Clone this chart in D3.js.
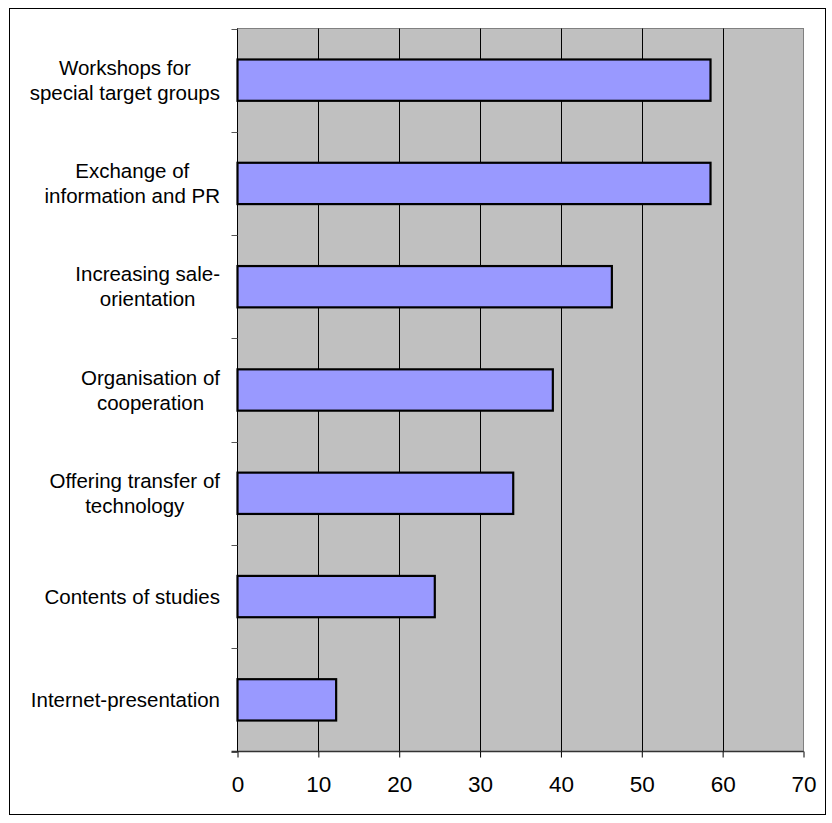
<!DOCTYPE html>
<html>
<head>
<meta charset="utf-8">
<script src="https://cdn.jsdelivr.net/npm/d3@7"></script>
<style>
  html, body { margin: 0; padding: 0; background: #fff; }
  svg { display: block; }
  text { font-family: "Liberation Sans", Arial, sans-serif; fill: #000; }
</style>
</head>
<body>
<svg id="chart" width="832" height="823"></svg>
<script>
// Activities, top to bottom, with the share (%) of each
const categories = [
  ["Workshops for", "special target groups"],
  ["Exchange of", "information and PR"],
  ["Increasing sale-", "orientation"],
  ["Organisation of", "cooperation"],
  ["Offering transfer of", "technology"],
  ["Contents of studies"],
  ["Internet-presentation"]
];
const values = [58.5, 58.5, 46.3, 39.0, 34.1, 24.4, 12.2];
const xTicks = [0, 10, 20, 30, 40, 50, 60, 70];

const svg = d3.select("#chart");

// outer frame
svg.append("rect")
  .attr("x", 9.5).attr("y", 8.5)
  .attr("width", 816).attr("height", 806)
  .attr("fill", "#fff").attr("stroke", "#000").attr("stroke-width", 1);

const plot = { left: 237.5, right: 803.5, top: 28.5, bottom: 751.5 };

const x = d3.scaleLinear().domain([0, 70]).range([plot.left, plot.right]);
const y = d3.scaleBand()
  .domain(d3.range(categories.length))
  .range([plot.top, plot.bottom])
  .paddingInner(0.6).paddingOuter(0.3);
const band = d3.scaleBand()
  .domain(d3.range(categories.length))
  .range([plot.top, plot.bottom]);

// plot background
svg.append("rect")
  .attr("x", plot.left).attr("y", plot.top)
  .attr("width", plot.right - plot.left).attr("height", plot.bottom - plot.top)
  .attr("fill", "#C0C0C0").attr("stroke", "#808080").attr("stroke-width", 1);

// vertical gridlines
svg.append("g")
  .selectAll("line")
  .data(xTicks.filter(d => d > 0 && d < 70))
  .join("line")
  .attr("x1", d => Math.round(x(d)) + 0.5).attr("x2", d => Math.round(x(d)) + 0.5)
  .attr("y1", plot.top).attr("y2", plot.bottom)
  .attr("stroke", "#000").attr("stroke-width", 1);

// bars
svg.append("g")
  .selectAll("rect")
  .data(values)
  .join("rect")
  .attr("x", x(0))
  .attr("y", (d, i) => y(i))
  .attr("width", d => x(d) - x(0))
  .attr("height", y.bandwidth())
  .attr("fill", "#9999FF")
  .attr("stroke", "#000")
  .attr("stroke-width", 2.2);

// category axis line and tick marks at band boundaries
const bounds = d3.range(categories.length + 1).map(i =>
  i < categories.length ? band(i) : plot.bottom);
svg.append("line")
  .attr("x1", plot.left).attr("x2", plot.left)
  .attr("y1", plot.top).attr("y2", plot.bottom)
  .attr("stroke", "#000").attr("stroke-width", 1);
svg.append("g")
  .selectAll("line")
  .data(bounds)
  .join("line")
  .attr("x1", plot.left - 6).attr("x2", plot.left)
  .attr("y1", d => Math.round(d) + 0.5).attr("y2", d => Math.round(d) + 0.5)
  .attr("stroke", "#555").attr("stroke-width", 1);

// value axis
const xAxis = d3.axisBottom(x)
  .tickValues(xTicks)
  .tickSize(6)
  .tickPadding(19)
  .tickFormat(d3.format("d"));
const gx = svg.append("g")
  .attr("transform", `translate(0,${plot.bottom})`)
  .call(xAxis);
gx.select(".domain").attr("stroke", "#333").attr("stroke-width", 1.5)
  .attr("d", `M${plot.left - 6},0H${plot.right}`);
gx.selectAll(".tick line").attr("stroke", "#000");
gx.selectAll(".tick text")
  .attr("font-size", 22.5)
  .attr("font-family", "'Liberation Sans', Arial, sans-serif");

// category labels: right-aligned block, lines centred within it
const labelRight = 220;
const lineH = 25;
const lg = svg.append("g");
categories.forEach((lines, i) => {
  const cy = band(i) + band.bandwidth() / 2;
  const t = lg.append("text")
    .attr("font-size", 20.5)
    .attr("text-anchor", "middle");
  lines.forEach((ln, k) => {
    t.append("tspan")
      .attr("y", cy + (k - (lines.length - 1) / 2) * lineH + 7)
      .text(ln);
  });
  const widths = t.selectAll("tspan").nodes().map(n => n.getComputedTextLength());
  const w = d3.max(widths);
  t.selectAll("tspan").attr("x", labelRight - w / 2);
});
</script>
</body>
</html>
